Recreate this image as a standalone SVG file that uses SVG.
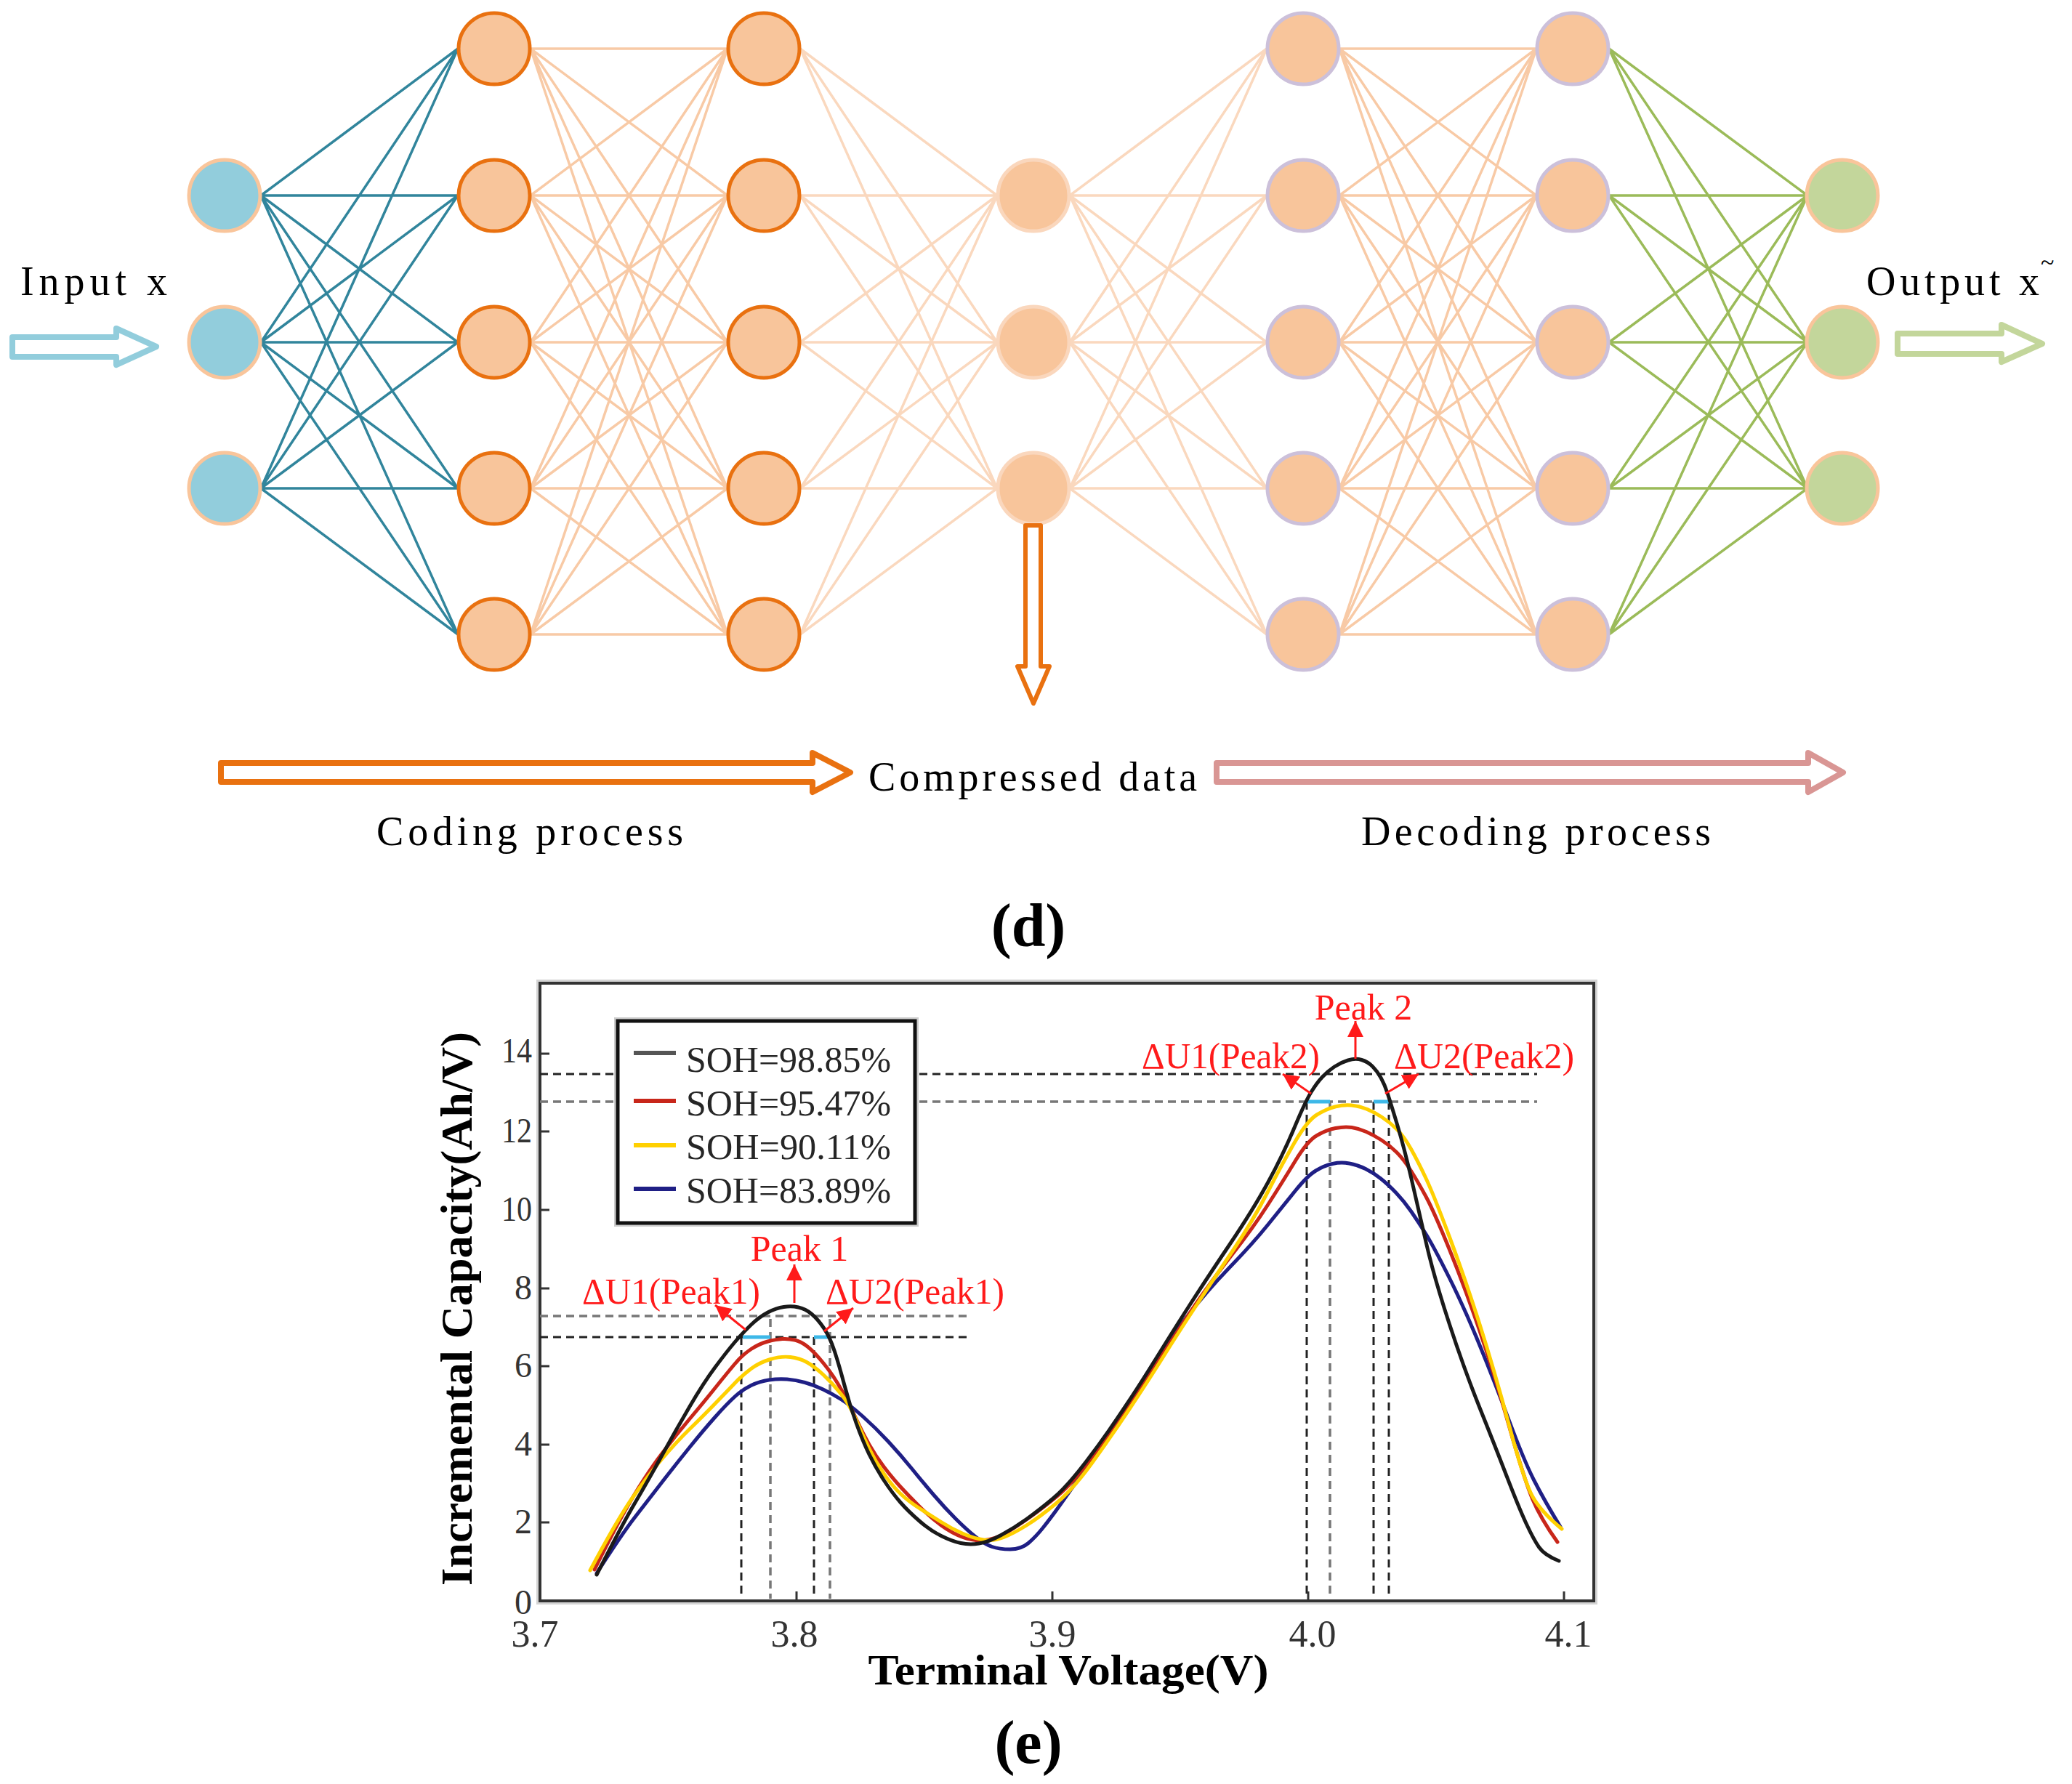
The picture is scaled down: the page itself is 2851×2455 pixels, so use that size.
<svg xmlns="http://www.w3.org/2000/svg" width="2851" height="2455" viewBox="0 0 2851 2455">
<style>
.lbl{font-family:"Liberation Serif","Times New Roman",serif;fill:#000}
.tk{font-family:"Liberation Serif","Times New Roman",serif;fill:#333;font-size:48px}
.tx{font-family:"Liberation Serif","Times New Roman",serif;fill:#333;font-size:52px;text-anchor:middle}
.red{font-family:"Liberation Serif","Times New Roman",serif;fill:#FF1A1A;font-size:50px}
.leg{font-family:"Liberation Serif","Times New Roman",serif;fill:#262626;font-size:50px}
.in{fill:#92CDDC;stroke:#F9C59B;stroke-width:5}
.enc{fill:#F8C59B;stroke:#E97110;stroke-width:5}
.mid{fill:#F8C59B;stroke:#FAD7BD;stroke-width:5}
.dec{fill:#F8C59B;stroke:#CCC0DA;stroke-width:5}
.out{fill:#C3D69B;stroke:#F9C59B;stroke-width:5}
.e{fill:none;stroke-width:3.5}
.crv{fill:none;stroke-width:5;stroke-linejoin:round;stroke-linecap:round}
.dk{stroke:#222;stroke-width:3;stroke-dasharray:11 7;fill:none}
.dg{stroke:#777;stroke-width:3.5;stroke-dasharray:11 7;fill:none}
.ra{stroke:#FF1A1A;stroke-width:3;fill:none}
.cy{stroke:#3DB8E8;stroke-width:5}
</style>
<defs>
<marker id="rh" viewBox="0 0 10 10" refX="10" refY="5" markerWidth="22" markerHeight="22" markerUnits="userSpaceOnUse" orient="auto">
<path d="M0,0L10,5L0,10z" fill="#FF1A1A"/>
</marker>
</defs>
<rect x="0" y="0" width="2851" height="2455" fill="#fff"/>

<g id="connectors">
<path class="e" stroke="#31859C" stroke-width="4" d="M359 269L630 67M359 269L630 269M359 269L630 471M359 269L630 672M359 269L630 873M359 471L630 67M359 471L630 269M359 471L630 471M359 471L630 672M359 471L630 873M359 672L630 67M359 672L630 269M359 672L630 471M359 672L630 672M359 672L630 873"/>
<path class="e" stroke="#F8CAA6" d="M730 67L1001 67M730 67L1001 269M730 67L1001 471M730 67L1001 672M730 67L1001 873M730 269L1001 67M730 269L1001 269M730 269L1001 471M730 269L1001 672M730 269L1001 873M730 471L1001 67M730 471L1001 269M730 471L1001 471M730 471L1001 672M730 471L1001 873M730 672L1001 67M730 672L1001 269M730 672L1001 471M730 672L1001 672M730 672L1001 873M730 873L1001 67M730 873L1001 269M730 873L1001 471M730 873L1001 672M730 873L1001 873"/>
<path class="e" stroke="#FAD8BE" d="M1101 67L1372 269M1101 67L1372 471M1101 67L1372 672M1101 269L1372 269M1101 269L1372 471M1101 269L1372 672M1101 471L1372 269M1101 471L1372 471M1101 471L1372 672M1101 672L1372 269M1101 672L1372 471M1101 672L1372 672M1101 873L1372 269M1101 873L1372 471M1101 873L1372 672"/>
<path class="e" stroke="#FAD8BE" d="M1472 269L1743 67M1472 269L1743 269M1472 269L1743 471M1472 269L1743 672M1472 269L1743 873M1472 471L1743 67M1472 471L1743 269M1472 471L1743 471M1472 471L1743 672M1472 471L1743 873M1472 672L1743 67M1472 672L1743 269M1472 672L1743 471M1472 672L1743 672M1472 672L1743 873"/>
<path class="e" stroke="#F8CAA6" d="M1843 67L2114 67M1843 67L2114 269M1843 67L2114 471M1843 67L2114 672M1843 67L2114 873M1843 269L2114 67M1843 269L2114 269M1843 269L2114 471M1843 269L2114 672M1843 269L2114 873M1843 471L2114 67M1843 471L2114 269M1843 471L2114 471M1843 471L2114 672M1843 471L2114 873M1843 672L2114 67M1843 672L2114 269M1843 672L2114 471M1843 672L2114 672M1843 672L2114 873M1843 873L2114 67M1843 873L2114 269M1843 873L2114 471M1843 873L2114 672M1843 873L2114 873"/>
<path class="e" stroke="#9BBB59" stroke-width="4" d="M2214 67L2487 269M2214 67L2487 471M2214 67L2487 672M2214 269L2487 269M2214 269L2487 471M2214 269L2487 672M2214 471L2487 269M2214 471L2487 471M2214 471L2487 672M2214 672L2487 269M2214 672L2487 471M2214 672L2487 672M2214 873L2487 269M2214 873L2487 471M2214 873L2487 672"/>
</g>

<g id="input-layer">
<circle class="in" cx="309" cy="269" r="49"/>
<circle class="in" cx="309" cy="471" r="49"/>
<circle class="in" cx="309" cy="672" r="49"/>
</g>
<g id="encoder-layer-1">
<circle class="enc" cx="680" cy="67" r="49"/>
<circle class="enc" cx="680" cy="269" r="49"/>
<circle class="enc" cx="680" cy="471" r="49"/>
<circle class="enc" cx="680" cy="672" r="49"/>
<circle class="enc" cx="680" cy="873" r="49"/>
</g>
<g id="encoder-layer-2">
<circle class="enc" cx="1051" cy="67" r="49"/>
<circle class="enc" cx="1051" cy="269" r="49"/>
<circle class="enc" cx="1051" cy="471" r="49"/>
<circle class="enc" cx="1051" cy="672" r="49"/>
<circle class="enc" cx="1051" cy="873" r="49"/>
</g>
<g id="code-layer">
<circle class="mid" cx="1422" cy="269" r="49"/>
<circle class="mid" cx="1422" cy="471" r="49"/>
<circle class="mid" cx="1422" cy="672" r="49"/>
</g>
<g id="decoder-layer-1">
<circle class="dec" cx="1793" cy="67" r="49"/>
<circle class="dec" cx="1793" cy="269" r="49"/>
<circle class="dec" cx="1793" cy="471" r="49"/>
<circle class="dec" cx="1793" cy="672" r="49"/>
<circle class="dec" cx="1793" cy="873" r="49"/>
</g>
<g id="decoder-layer-2">
<circle class="dec" cx="2164" cy="67" r="49"/>
<circle class="dec" cx="2164" cy="269" r="49"/>
<circle class="dec" cx="2164" cy="471" r="49"/>
<circle class="dec" cx="2164" cy="672" r="49"/>
<circle class="dec" cx="2164" cy="873" r="49"/>
</g>
<g id="output-layer">
<circle class="out" cx="2535" cy="269" r="49"/>
<circle class="out" cx="2535" cy="471" r="49"/>
<circle class="out" cx="2535" cy="672" r="49"/>
</g>

<g id="arrows-d" fill="none" stroke-linejoin="round">
<polygon points="17,464 160,464 160,452 215,477 160,502 160,491 17,491" stroke="#92CDDC" stroke-width="8"/>
<polygon points="2611,459 2754,459 2754,447 2810,473 2754,498 2754,487 2611,487" stroke="#C3D69B" stroke-width="8"/>
<polygon points="1411,723 1432,723 1432,917 1444,917 1422,968 1400,917 1411,917" stroke="#E97110" stroke-width="6"/>
<polygon points="304,1050 1118,1050 1118,1036 1170,1063 1118,1090 1118,1076 304,1076" stroke="#E97110" stroke-width="8"/>
<polygon points="1674,1050 2488,1050 2488,1036 2536,1063 2488,1090 2488,1076 1674,1076" stroke="#D99694" stroke-width="8"/>
</g>

<g id="labels-d" class="lbl" font-size="56">
<text x="28" y="406" textLength="202" lengthAdjust="spacing">Input x</text>
<text x="2568" y="406" textLength="238" lengthAdjust="spacing">Output x</text>
<text x="2808" y="372" font-size="34">~</text>
<text x="1195" y="1088" textLength="452" lengthAdjust="spacing">Compressed data</text>
<text x="518" y="1163" textLength="422" lengthAdjust="spacing">Coding process</text>
<text x="1873" y="1163" textLength="481" lengthAdjust="spacing">Decoding process</text>
<text x="1415" y="1302" font-size="84" font-weight="bold" text-anchor="middle">(d)</text>
</g>

<g id="chart-e">
<rect x="743" y="1353" width="1450" height="850" fill="none" stroke="#d4d4d4" stroke-width="10"/>
<rect x="743" y="1353" width="1450" height="850" fill="#fff" stroke="#333" stroke-width="4"/>
<g id="guides">
<line class="dk" x1="743" y1="1478" x2="2115" y2="1478"/>
<line class="dg" x1="743" y1="1516" x2="2115" y2="1516"/>
<line class="dg" x1="743" y1="1811" x2="1333" y2="1811"/>
<line class="dk" x1="743" y1="1840" x2="1333" y2="1840"/>
<line class="dk" x1="1020" y1="1840" x2="1020" y2="2200"/>
<line class="dg" x1="1060" y1="1815" x2="1060" y2="2200"/>
<line class="dk" x1="1120" y1="1840" x2="1120" y2="2200"/>
<line class="dg" x1="1142" y1="1815" x2="1142" y2="2200"/>
<line class="dk" x1="1798" y1="1516" x2="1798" y2="2198"/>
<line class="dg" x1="1830" y1="1516" x2="1830" y2="2198"/>
<line class="dk" x1="1890" y1="1516" x2="1890" y2="2198"/>
<line class="dk" x1="1911" y1="1516" x2="1911" y2="2198"/>
<line class="cy" x1="1798" y1="1516" x2="1830" y2="1516"/>
<line class="cy" x1="1890" y1="1516" x2="1911" y2="1516"/>
<line class="cy" x1="1022" y1="1840" x2="1060" y2="1840"/>
<line class="cy" x1="1120" y1="1840" x2="1142" y2="1840"/>
</g>
<g id="ticks" stroke="#333" stroke-width="3">
<path d="M743 2095H756M743 1988H756M743 1880H756M743 1773H756M743 1665H756M743 1557H756M743 1450H756M1096 2203V2190M1448 2203V2190M1800 2203V2190M2152 2203V2190"/>
</g>
<g id="curves">
<path class="crv" stroke="#1F1F85" d="M821 2165Q855 2112 873.5 2088T911 2039.5T949 1991.5T984 1950T1011 1922T1033.5 1906.5T1058 1899T1083 1898T1107.5 1902.5T1132.5 1912T1157 1925.5T1187 1949T1222.5 1984T1255 2021.5T1285 2057.5T1315 2090T1342.5 2115T1365 2128.5T1390 2132T1415 2123.5T1435 2102.5T1456.5 2074T1494 2020.5T1546 1941.5T1586 1877.5T1630 1816T1692 1744T1744.5 1685.5T1782 1639T1810.5 1611T1833.5 1601.5T1856.5 1601T1879 1608.5T1900 1622T1921 1641.5T1942 1667.5T1962.5 1699T1994 1758T2035.5 1850T2076.5 1955T2111 2037.5T2147 2101"/>
<path class="crv" stroke="#C8261A" d="M818 2160Q850 2095 871 2060T911 2000T949 1952.5T984 1910T1011 1877T1033.5 1856.5T1056.5 1846T1076.5 1842.5T1093.5 1844T1111 1853T1133.5 1876.5T1158 1913T1178 1952.5T1196 1988T1216.5 2019T1239 2046T1265 2073T1295 2099T1325 2115.5T1355 2119.5T1385 2109T1417.5 2087.5T1455 2058.5T1500 2009T1551.5 1937T1596.5 1869T1640 1802.5T1694.5 1727.5T1744.5 1658T1782 1598T1812 1562.5T1837.5 1552.5T1860 1551.5T1880 1557.5T1901 1569T1922 1586T1942 1612T1962.5 1647.5T1994 1718.5T2035.5 1830T2076.5 1962.5T2108.5 2062.5T2143 2122"/>
<path class="crv" stroke="#FFD000" d="M812 2161Q850 2090 871 2060T911 2007.5T949 1966.5T984 1931.5T1011 1903.5T1033.5 1883.5T1060 1870.5T1087.5 1867.5T1110 1874.5T1132.5 1891.5T1157 1918T1178 1954T1196 1993.5T1216.5 2028.5T1239 2055.5T1265 2075.5T1295 2094.5T1325 2110.5T1353.5 2119T1381 2115.5T1412.5 2099T1453 2069T1502 2014T1554 1939T1600 1868T1645 1798T1697 1720T1744.5 1640T1782 1571T1812 1534T1837 1523T1859.5 1521T1880 1526T1901 1537T1922 1554T1942 1582T1962.5 1622.5T1994 1701T2035.5 1821T2076.5 1961.5T2108.5 2059T2149 2104"/>
<path class="crv" stroke="#1A1A1A" d="M821 2167Q855 2100 873.5 2068.5T911 2002.5T949 1935.5T984 1881.5T1011 1847T1033.5 1823T1056.5 1806T1078.5 1798.5T1098.5 1799T1116.5 1808T1133.5 1827.5T1148.5 1860T1162 1906.5T1178 1958T1196 2001.5T1216.5 2037.5T1239 2067.5T1265 2093T1295 2113.5T1322 2123.5T1347 2124T1377.5 2112.5T1412.5 2090.5T1449 2062T1494 2012T1546 1939T1591 1869T1635 1799T1692 1712.5T1744.5 1627.5T1780.5 1553T1804 1503T1819.5 1482T1836 1468T1855 1459T1873.5 1458.5T1888.5 1467.5T1900 1483T1909 1504T1922.5 1547.5T1942 1622T1962.5 1711T1994 1821T2035.5 1936T2073 2031T2100 2096.5T2117.5 2129T2145 2148"/>
</g>
<g id="legend">
<rect x="850" y="1405" width="409" height="278" fill="none" stroke="#ccc" stroke-width="10"/>
<rect x="850" y="1405" width="409" height="278" fill="#fff" stroke="#111" stroke-width="5"/>
<line x1="872" y1="1449" x2="930" y2="1449" stroke="#555" stroke-width="6"/>
<line x1="872" y1="1515" x2="930" y2="1515" stroke="#C8261A" stroke-width="6"/>
<line x1="872" y1="1576" x2="930" y2="1576" stroke="#FFD000" stroke-width="6"/>
<line x1="872" y1="1636" x2="930" y2="1636" stroke="#1F1F85" stroke-width="6"/>
<text class="leg" x="944" y="1475" textLength="282" lengthAdjust="spacingAndGlyphs">SOH=98.85%</text>
<text class="leg" x="944" y="1535" textLength="282" lengthAdjust="spacingAndGlyphs">SOH=95.47%</text>
<text class="leg" x="944" y="1595" textLength="282" lengthAdjust="spacingAndGlyphs">SOH=90.11%</text>
<text class="leg" x="944" y="1655" textLength="282" lengthAdjust="spacingAndGlyphs">SOH=83.89%</text>
</g>
<g id="annotations">
<line class="ra" x1="1093" y1="1793" x2="1093" y2="1740" marker-end="url(#rh)"/>
<line class="ra" x1="1865" y1="1457" x2="1865" y2="1405" marker-end="url(#rh)"/>
<line class="ra" x1="1026" y1="1830" x2="984" y2="1796" marker-end="url(#rh)"/>
<line class="ra" x1="1134" y1="1832" x2="1174" y2="1800" marker-end="url(#rh)"/>
<line class="ra" x1="1804" y1="1505" x2="1765" y2="1478" marker-end="url(#rh)"/>
<line class="ra" x1="1906" y1="1505" x2="1952" y2="1478" marker-end="url(#rh)"/>
<text class="red" x="1100" y="1735" text-anchor="middle">Peak 1</text>
<text class="red" x="1876" y="1403" text-anchor="middle">Peak 2</text>
<text class="red" x="801" y="1794" textLength="245" lengthAdjust="spacingAndGlyphs">ΔU1(Peak1)</text>
<text class="red" x="1136" y="1794" textLength="246" lengthAdjust="spacingAndGlyphs">ΔU2(Peak1)</text>
<text class="red" x="1571" y="1470" textLength="245" lengthAdjust="spacingAndGlyphs">ΔU1(Peak2)</text>
<text class="red" x="1918" y="1470" textLength="248" lengthAdjust="spacingAndGlyphs">ΔU2(Peak2)</text>
</g>
<g id="axis-labels">
<text class="tk" x="732" y="2221" text-anchor="end">0</text>
<text class="tk" x="732" y="2110" text-anchor="end">2</text>
<text class="tk" x="732" y="2003" text-anchor="end">4</text>
<text class="tk" x="732" y="1895" text-anchor="end">6</text>
<text class="tk" x="732" y="1788" text-anchor="end">8</text>
<text class="tk" x="732" y="1680" text-anchor="end" textLength="42" lengthAdjust="spacingAndGlyphs">10</text>
<text class="tk" x="732" y="1572" text-anchor="end" textLength="42" lengthAdjust="spacingAndGlyphs">12</text>
<text class="tk" x="732" y="1462" text-anchor="end" textLength="42" lengthAdjust="spacingAndGlyphs">14</text>
<text class="tx" x="736" y="2266">3.7</text>
<text class="tx" x="1093" y="2266">3.8</text>
<text class="tx" x="1448" y="2266">3.9</text>
<text class="tx" x="1806" y="2266">4.0</text>
<text class="tx" x="2158" y="2266">4.1</text>
<text class="lbl" x="1470" y="2318" font-size="60" font-weight="bold" text-anchor="middle" textLength="551" lengthAdjust="spacingAndGlyphs">Terminal Voltage(V)</text>
<text class="lbl" transform="translate(649,1801) rotate(-90)" font-size="62" font-weight="bold" text-anchor="middle" textLength="762" lengthAdjust="spacingAndGlyphs">Incremental Capacity(Ah/V)</text>
<text class="lbl" x="1415" y="2426" font-size="84" font-weight="bold" text-anchor="middle">(e)</text>
</g>
</g>
</svg>
